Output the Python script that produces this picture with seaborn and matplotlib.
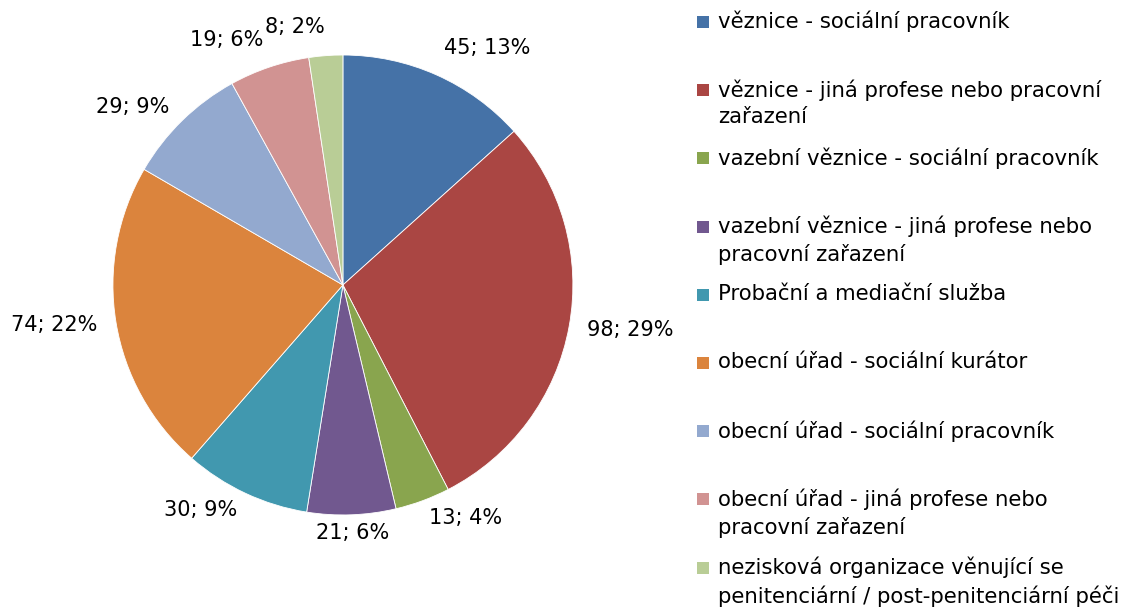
import matplotlib
matplotlib.use("Agg")
import matplotlib.pyplot as plt
from matplotlib.patches import Rectangle
import seaborn as sns

categories = [
    "věznice - sociální pracovník",
    "věznice - jiná profese nebo pracovní\nzařazení",
    "vazební věznice - sociální pracovník",
    "vazební věznice - jiná profese nebo\npracovní zařazení",
    "Probační a mediační služba",
    "obecní úřad - sociální kurátor",
    "obecní úřad - sociální pracovník",
    "obecní úřad - jiná profese nebo\npracovní zařazení",
    "nezisková organizace věnující se\npenitenciární / post-penitenciární péči",
]
counts = [45, 98, 13, 21, 30, 74, 29, 19, 8]
colors = ["#4572A7", "#AA4643", "#89A54E", "#71588F", "#4198AF",
          "#DB843D", "#93A9CF", "#D19392", "#B9CD96"]

sns.set_theme(style="white")
plt.rcParams["font.family"] = ["DejaVu Sans"]
palette = sns.color_palette(colors)

total = sum(counts)
value_labels = [f"{c}; {round(100 * c / total)}%" for c in counts]

fig = plt.figure(figsize=(11.34, 6.07), dpi=100)
ax = fig.add_axes([0.0996, 0.1516, 0.4056, 0.7578])

wedges, texts = ax.pie(
    counts,
    colors=palette,
    labels=value_labels,
    startangle=90,
    counterclock=False,
    labeldistance=1.08,
    wedgeprops=dict(edgecolor="white", linewidth=0.6),
    textprops=dict(fontsize=15, color="black"),
)
for t in texts:
    x, y = t.get_position()
    if abs(x) < 0.15 and y < 0:
        t.set_ha("center")
    if y > 0.9:
        t.set_va("bottom")
ax.set_xlim(-1, 1)
ax.set_ylim(-1, 1)
ax.set_aspect("equal")
ax.axis("off")

# legend drawn by hand so the marker sits on the first line of each entry
W, H = 1134, 607
for i, (cat, col) in enumerate(zip(categories, palette)):
    yc = 22 + i * 68.2
    fig.patches.append(Rectangle((697 / W, 1 - (yc + 6) / H), 12 / W, 12 / H,
                                 transform=fig.transFigure, facecolor=col,
                                 edgecolor="none"))
    fig.text(718 / W, 1 - (yc - 11) / H, cat, fontsize=15.3, va="top",
             ha="left", linespacing=1.4, color="black")

fig.savefig("out.png", dpi=100)
